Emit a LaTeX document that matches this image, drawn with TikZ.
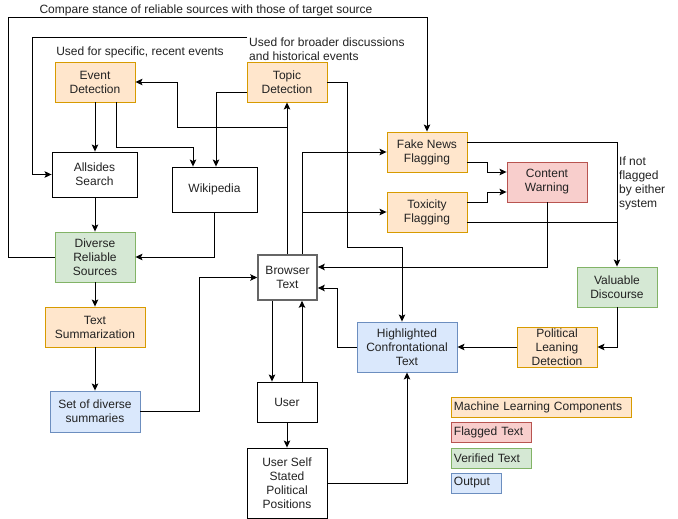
\documentclass[tikz,border=0pt]{standalone}
\usepackage{fontspec}
\setmainfont{Liberation Sans}
\usetikzlibrary{arrows.meta}
\definecolor{mlfill}{HTML}{FFE6CC}\definecolor{mlline}{HTML}{D79B00}
\definecolor{flfill}{HTML}{F8CECC}\definecolor{flline}{HTML}{B85450}
\definecolor{vffill}{HTML}{D5E8D4}\definecolor{vfline}{HTML}{82B366}
\definecolor{oufill}{HTML}{DAE8FC}\definecolor{ouline}{HTML}{6C8EBF}
\definecolor{ink}{HTML}{222222}
\begin{document}
\begin{tikzpicture}[x=1pt,y=-1pt,
  every node/.style={font=\fontsize{12}{14}\selectfont, text=ink, inner sep=0pt},
  box/.style={draw=black, line width=0.9pt, align=center},
  mlbox/.style={box, fill=mlfill, draw=mlline},
  flbox/.style={box, fill=flfill, draw=flline},
  vfbox/.style={box, fill=vffill, draw=vfline},
  oubox/.style={box, fill=oufill, draw=ouline},
  legend/.style={anchor=west, minimum height=20pt, align=left, text width=#1, inner xsep=2.5pt, line width=0.9pt},
  arr/.style={draw=black, line width=0.9pt, -{Stealth[length=7pt,width=6.5pt,inset=1.5pt]}},
  ln/.style={draw=black, line width=0.9pt}]
\fill[white] (0,0) rectangle (678,519);
\useasboundingbox (0,0) rectangle (678,519);

% processing blocks
\node[mlbox, minimum width=80pt, minimum height=40pt] (ev) at (95,82) {Event\\Detection};
\node[mlbox, minimum width=80pt, minimum height=40pt] (topic) at (287,82) {Topic\\Detection};
\node[box, minimum width=85pt, minimum height=45pt] (alls) at (94.5,174.5) {Allsides\\Search};
\node[box, minimum width=85pt, minimum height=45pt] (wiki) at (214.5,189.5) {Wikipedia};
\node[vfbox, minimum width=80pt, minimum height=50pt] (div) at (95,257) {Diverse\\Reliable\\Sources};
\node[mlbox, minimum width=100pt, minimum height=40pt] (summ) at (95,327) {Text\\Summarization};
\node[oubox, minimum width=90pt, minimum height=41pt] (set) at (95,411.5) {Set of diverse\\summaries};
\node[box, draw=black!60, line width=1.6pt, minimum width=59pt, minimum height=45pt] (browser) at (287.5,277.5) {Browser\\Text};
\node[box, minimum width=60pt, minimum height=40pt] (user) at (287,402) {User};
\node[box, minimum width=80pt, minimum height=70pt] (uss) at (287,483) {User Self\\Stated\\Political\\Positions};
\node[mlbox, minimum width=80pt, minimum height=40pt] (fake) at (427,152) {Fake News\\Flagging};
\node[mlbox, minimum width=80pt, minimum height=40pt] (tox) at (427,212) {Toxicity\\Flagging};
\node[flbox, minimum width=80pt, minimum height=40pt] (cw) at (547,182) {Content\\Warning};
\node[vfbox, minimum width=80pt, minimum height=40pt] (val) at (617,287) {Valuable\\Discourse};
\node[mlbox, minimum width=80pt, minimum height=40pt] (pol) at (557,347) {Political\\Leaning\\Detection};
\node[oubox, minimum width=100pt, minimum height=50pt] (hi) at (407,347) {Highlighted\\Confrontational\\Text};

% free labels
\node (title) at (206,10) {Compare stance of reliable sources with those of target source};
\node (recent) at (140,52) {Used for specific, recent events};
\node[anchor=west, align=left] (broad) at (249,49) {Used for broader discussions\\and historical events};
\node[anchor=west, align=left] (notflag) at (619,183) {If not\\flagged\\by either\\system};

% legend
\node[legend=175pt, fill=mlfill, draw=mlline] (lgml) at (451,407) {Machine Learning Components};
\node[legend=75pt, fill=flfill, draw=flline] (lgfl) at (451,432) {Flagged Text};
\node[legend=75pt, fill=vffill, draw=vfline] (lgvf) at (451,458) {Verified Text};
\node[legend=45pt, fill=oufill, draw=ouline] (lgou) at (451,483) {Output};

% bend points of the long loops
\coordinate (tl) at (8,17);
\coordinate (lp) at (247,37);
\coordinate (lpc) at (32,37);

% connectors
\draw[arr] (ev.south) -- (ev.south |- alls.north);
\draw[arr] ([xshift=21pt]ev.south) -- ++(0,45) -| ([xshift=-21.5pt]wiki.north);
\draw[arr] ([yshift=-10pt]topic.west) -| ([xshift=1.5pt]wiki.north);
\draw[arr] (topic.east) -| (347,247) -| ([xshift=-5pt]hi.north);
\draw[arr] (browser.north -| topic.south) -- (topic.south);
\draw[arr] (browser.north -| topic.south) |- (177,127) |- (ev.east);
\draw[arr] ([xshift=15pt]browser.north) |- (fake.west);
\draw[arr] ([xshift=15pt]browser.north) |- (tox.west);
\draw[arr] ([yshift=-10pt]fake.east) -- ++(20,0) |- ([yshift=10pt]cw.west);
\draw[arr] ([yshift=10pt]tox.east) -- ++(20,0) |- ([yshift=-10pt]cw.west);
\draw[arr] ([yshift=10pt]fake.east) -| (val.north);
\draw[ln] ([yshift=-10pt]tox.east) -- ([yshift=-10pt]tox.east -| val.north);
\draw[arr] (cw.south) |- ([yshift=10.5pt]browser.east);
\draw[arr] (val.south) |- (pol.east);
\draw[arr] (pol.west) -- (hi.east);
\draw[arr] (hi.west) -- ++(-19,0) |- ([yshift=-10.5pt]browser.east);
\draw[arr] ([xshift=-15.5pt]browser.south) -- ([xshift=-15pt]user.north);
\draw[arr] ([xshift=15pt]user.north) -- ([xshift=14.5pt]browser.south);
\draw[arr] (user.south) -- (uss.north);
\draw[arr] (uss.east) -| (hi.south);
\draw[arr] (set.east) -- ++(59,0) |- (browser.west);
\draw[arr] (alls.south -| div.north) -- (div.north);
\draw[arr] (wiki.south) |- (div.east);
\draw[arr] (div.south) -- (summ.north);
\draw[arr] (summ.south) -- (set.north);
\draw[arr] (div.west) -| (tl) -| (fake.north);
\draw[arr] (lp) -- (lpc) |- (alls.west);
\end{tikzpicture}
\end{document}
